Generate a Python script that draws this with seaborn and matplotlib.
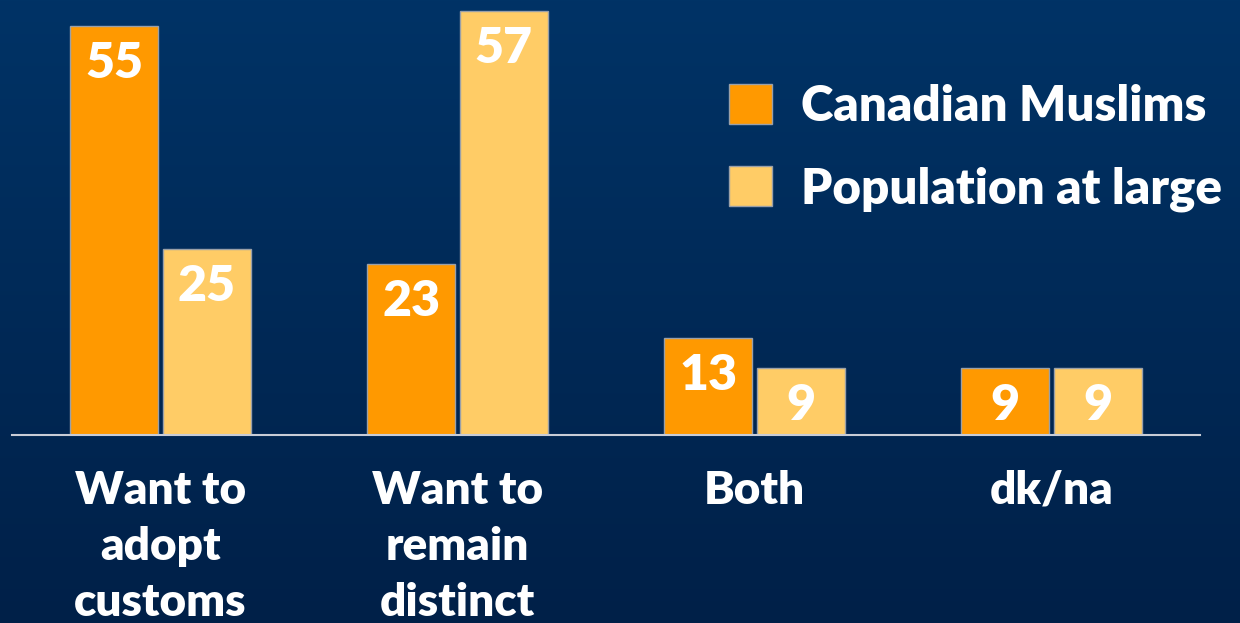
import numpy as np
import pandas as pd
import seaborn as sns
import matplotlib.pyplot as plt
from matplotlib.patches import Patch

# data
categories = ["Want to\nadopt\ncustoms", "Want to\nremain\ndistinct", "Both", "dk/na"]
groups = ["Canadian Muslims", "Population at large"]
muslims = [55, 23, 13, 9]
population = [25, 57, 9, 9]
colors = ["#FF9900", "#FFCC66"]

df = pd.DataFrame({
    "category": categories * 2,
    "group": [groups[0]] * 4 + [groups[1]] * 4,
    "value": muslims + population,
})

sns.set_style("white")
plt.rcParams['font.family'] = ['Lato', 'DejaVu Sans']
plt.rcParams['font.weight'] = 'heavy'

fig = plt.figure(figsize=(12.4, 6.23), dpi=100)

# dark blue gradient behind everything
bg = fig.add_axes([0, 0, 1, 1], zorder=0)
grad = np.linspace(0, 1, 256).reshape(-1, 1)
top = np.array([0x00, 0x33, 0x66]) / 255
bot = np.array([0x00, 0x20, 0x48]) / 255
img = top + (bot - top) * grad[:, :, None]
bg.imshow(img, aspect='auto', extent=[0, 1, 0, 1])
bg.axis('off')

ax = fig.add_axes([12 / 1240, (623 - 435) / 623, (1200 - 12) / 1240, 435 / 623], zorder=1)
ax.patch.set_alpha(0)

sns.barplot(data=df, x="category", y="value", hue="group", hue_order=groups,
            palette=colors, width=0.625, gap=0.045, edgecolor="#9aa0a8",
            linewidth=1, saturation=1, ax=ax, legend=False)

for cont in ax.containers:
    for bar in cont:
        h = bar.get_height()
        ax.annotate(f"{h:.0f}", (bar.get_x() + bar.get_width() / 2, h),
                    xytext=(0, -27), textcoords="offset points",
                    ha="center", va="center", color="white",
                    fontsize=36, fontweight="heavy")

ax.set_xlim(-0.5, 3.5)
ax.set_ylim(0, 58.5)
ax.set_xlabel("")
ax.set_ylabel("")
ax.set_yticks([])
for s in ["top", "right", "left"]:
    ax.spines[s].set_visible(False)
ax.spines["bottom"].set_color("#c8ccd6")
ax.spines["bottom"].set_linewidth(1.5)
ax.set_xticks(range(len(categories)))
ax.set_xticklabels(categories, fontsize=33, fontweight="heavy",
                   color="white", linespacing=1.45)
ax.tick_params(axis="x", length=0, pad=25)

handles = [Patch(facecolor=c, edgecolor="#9aa0a8", linewidth=1) for c in colors]
leg = fig.legend(handles, groups, loc="upper left",
                 bbox_to_anchor=(729 / 1240, 1 - 84 / 623),
                 frameon=False, fontsize=35.5, labelcolor="white",
                 handlelength=0.87, handleheight=0.87, handletextpad=0.6,
                 labelspacing=0.75, borderpad=0, borderaxespad=0)
for t in leg.get_texts():
    t.set_fontweight("heavy")

fig.savefig("out.png", dpi=100)
